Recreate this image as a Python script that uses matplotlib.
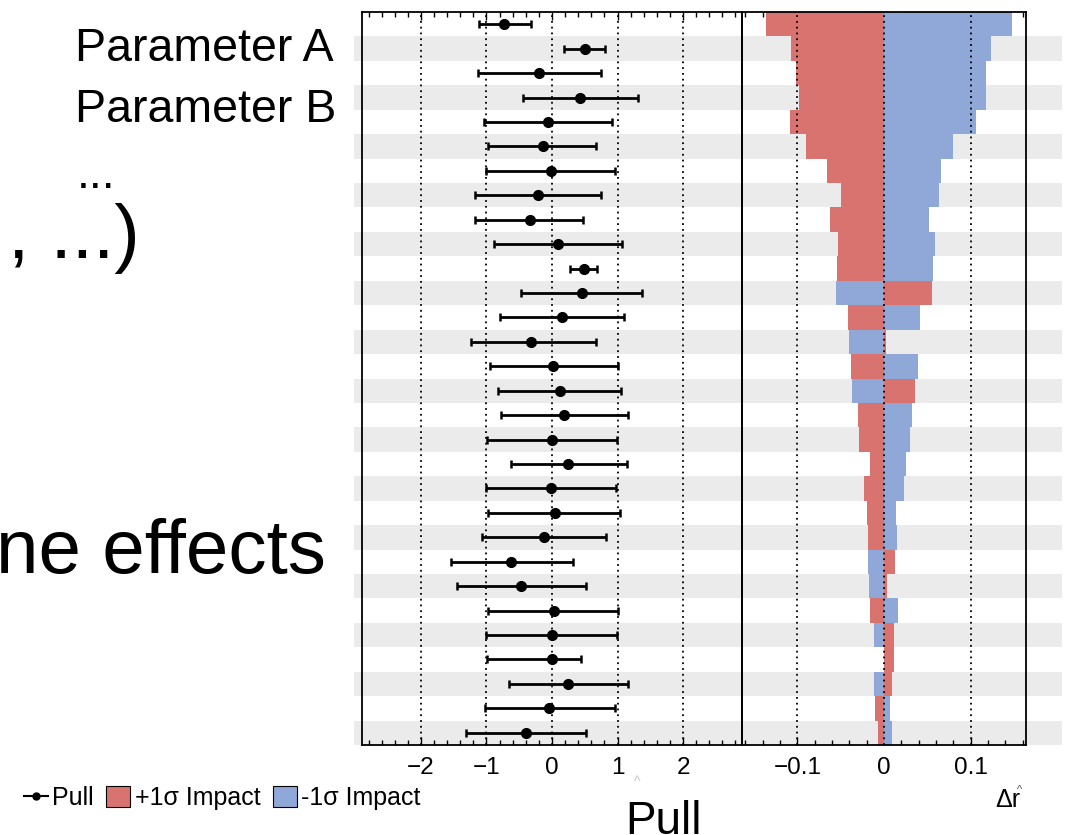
import numpy as np
import matplotlib
matplotlib.use("Agg")
import matplotlib.pyplot as plt
import matplotlib.transforms as mtransforms
from matplotlib.patches import Rectangle, Patch
from matplotlib.lines import Line2D

plt.rcParams['font.family'] = ['Liberation Sans', 'DejaVu Sans']

# pulls, top row first
pull = [-0.73, 0.50, -0.20, 0.43, -0.06, -0.14, -0.02, -0.21, -0.34, 0.09,
        0.49, 0.46, 0.15, -0.32, 0.02, 0.12, 0.19, 0.00, 0.25, -0.02,
        0.04, -0.12, -0.62, -0.47, 0.03, 0.00, 0.00, 0.24, -0.04, -0.39]
pull_lo = [-1.12, 0.19, -1.13, -0.45, -1.04, -0.98, -1.01, -1.17, -1.18, -0.89,
           0.27, -0.48, -0.80, -1.23, -0.95, -0.82, -0.78, -0.99, -0.62, -1.01,
           -0.97, -1.07, -1.54, -1.45, -0.98, -1.00, -0.99, -0.65, -1.02, -1.31]
pull_hi = [-0.32, 0.81, 0.75, 1.32, 0.91, 0.67, 0.96, 0.75, 0.47, 1.07,
           0.68, 1.38, 1.10, 0.67, 1.00, 1.05, 1.16, 0.99, 1.15, 0.97,
           1.04, 0.82, 0.32, 0.52, 1.01, 0.99, 0.44, 1.16, 0.96, 0.52]

# +1 sigma / -1 sigma impacts on r
impact_up = [-0.136, -0.107, -0.102, -0.098, -0.109, -0.090, -0.066, -0.050, -0.062, -0.053,
             -0.054, 0.056, -0.042, 0.002, -0.038, 0.036, -0.030, -0.029, -0.016, -0.023,
             -0.020, -0.019, 0.013, 0.003, -0.016, 0.012, 0.0115, 0.0096, -0.0104, -0.0065]
impact_dn = [0.148, 0.124, 0.118, 0.118, 0.106, 0.080, 0.066, 0.063, 0.052, 0.059,
             0.057, -0.055, 0.041, -0.040, 0.039, -0.0365, 0.032, 0.030, 0.025, 0.023,
             0.014, 0.015, -0.018, -0.017, 0.0165, -0.012, -0.0005, -0.011, 0.0073, 0.0092]

pull_ticks = [-2, -1, 0, 1, 2]
impact_ticks = [-0.1, 0, 0.1]
impact_labels = ['\u22120.1', '0', '0.1']

red = '#d97370'
blue = '#8fa8d8'
W, H = 1067, 835

fig = plt.figure(figsize=(W / 100, H / 100), dpi=100)
ax1 = fig.add_axes([362 / W, 1 - 745 / H, 380 / W, 733 / H])
ax2 = fig.add_axes([742 / W, 1 - 745 / H, 284 / W, 733 / H])

y = np.arange(1, len(pull) + 1)
pull = np.array(pull)
err = [pull - np.array(pull_lo), np.array(pull_hi) - pull]

# grey stripes across both panels
tr = mtransforms.blended_transform_factory(fig.transFigure, ax1.transData)
for yy in y[1::2]:
    fig.patches.append(Rectangle((354 / W, yy - 0.5), (1062 - 354) / W, 1.0,
                                 transform=tr, facecolor='#ebebeb',
                                 edgecolor='none', zorder=-5))

for ax in (ax1, ax2):
    ax.set_facecolor('none')
    ax.set_ylim(len(pull) + 0.5, 0.5)
    ax.set_yticks([])
    for s in ax.spines.values():
        s.set_linewidth(1.3)
    ax.tick_params(axis='x', which='both', direction='in', top=True,
                   labelsize=17.5, pad=9, width=1.0)
    ax.tick_params(axis='x', which='major', length=6)
    ax.tick_params(axis='x', which='minor', length=3.5)

# pull panel
ax1.set_xlim(-2.9, 2.9)
ax1.set_xticks(pull_ticks)
ax1.set_xticks(np.arange(-2.8, 2.81, 0.2), minor=True)
for t in pull_ticks:
    ax1.axvline(t, color='black', lw=1.3, ls=(0, (1, 2.2)), zorder=1)
ax1.errorbar(pull, y, xerr=err, fmt='o', color='black', ms=7, lw=2.0,
             capsize=2.6, capthick=1.8, zorder=4)

# impact panel
ax2.barh(y, impact_dn, height=1.0, color=blue, zorder=2)
ax2.barh(y, impact_up, height=1.0, color=red, zorder=2)
ax2.set_xlim(-0.164, 0.164)
ax2.set_xticks(impact_ticks, impact_labels)
ax2.set_xticks(np.arange(-0.16, 0.161, 0.02), minor=True)
for t in impact_ticks:
    ax2.axvline(t, color='black', lw=1.3, ls=(0, (1, 2.2)), zorder=3)

# axis titles
fig.text(625 / W, 1 - 834 / H, 'Pull', fontsize=33, ha='left', va='baseline')
fig.text(637 / W, 1 - 786 / H, '^', fontsize=10, color='#c8c8c8', ha='center', va='baseline')
fig.text(995 / W, 1 - 807 / H, '\u0394r', fontsize=18, ha='left', va='baseline')
fig.text(1020 / W, 1 - 793 / H, '^', fontsize=8, color='#555555', ha='center', va='baseline')

# legend
handles = [Line2D([], [], color='black', marker='o', ms=5, lw=1.5),
           Patch(facecolor=red, edgecolor='black', lw=0.8),
           Patch(facecolor=blue, edgecolor='black', lw=0.8)]
fig.legend(handles, ['Pull', '+1\u03c3 Impact', '-1\u03c3 Impact'],
           loc='center left', bbox_to_anchor=(24 / W, 1 - 798 / H), ncol=3,
           frameon=False, fontsize=18, handlelength=0.95, handleheight=0.95,
           handletextpad=0.18, columnspacing=0.5, borderaxespad=0, borderpad=0)

# slide text around the figure
fig.text(75 / W, 1 - 61 / H, 'Parameter A', fontsize=33.5, ha='left', va='baseline')
fig.text(75 / W, 1 - 122 / H, 'Parameter B', fontsize=33.5, ha='left', va='baseline')
fig.text(77 / W, 1 - 188 / H, '...', fontsize=33, ha='left', va='baseline')
fig.text(140 / W, 1 - 258 / H, ', ...)', fontsize=55, ha='right', va='baseline')
fig.text(326 / W, 1 - 573 / H, 'ne effects', fontsize=55, ha='right', va='baseline')

fig.savefig('out.png', dpi=100)
